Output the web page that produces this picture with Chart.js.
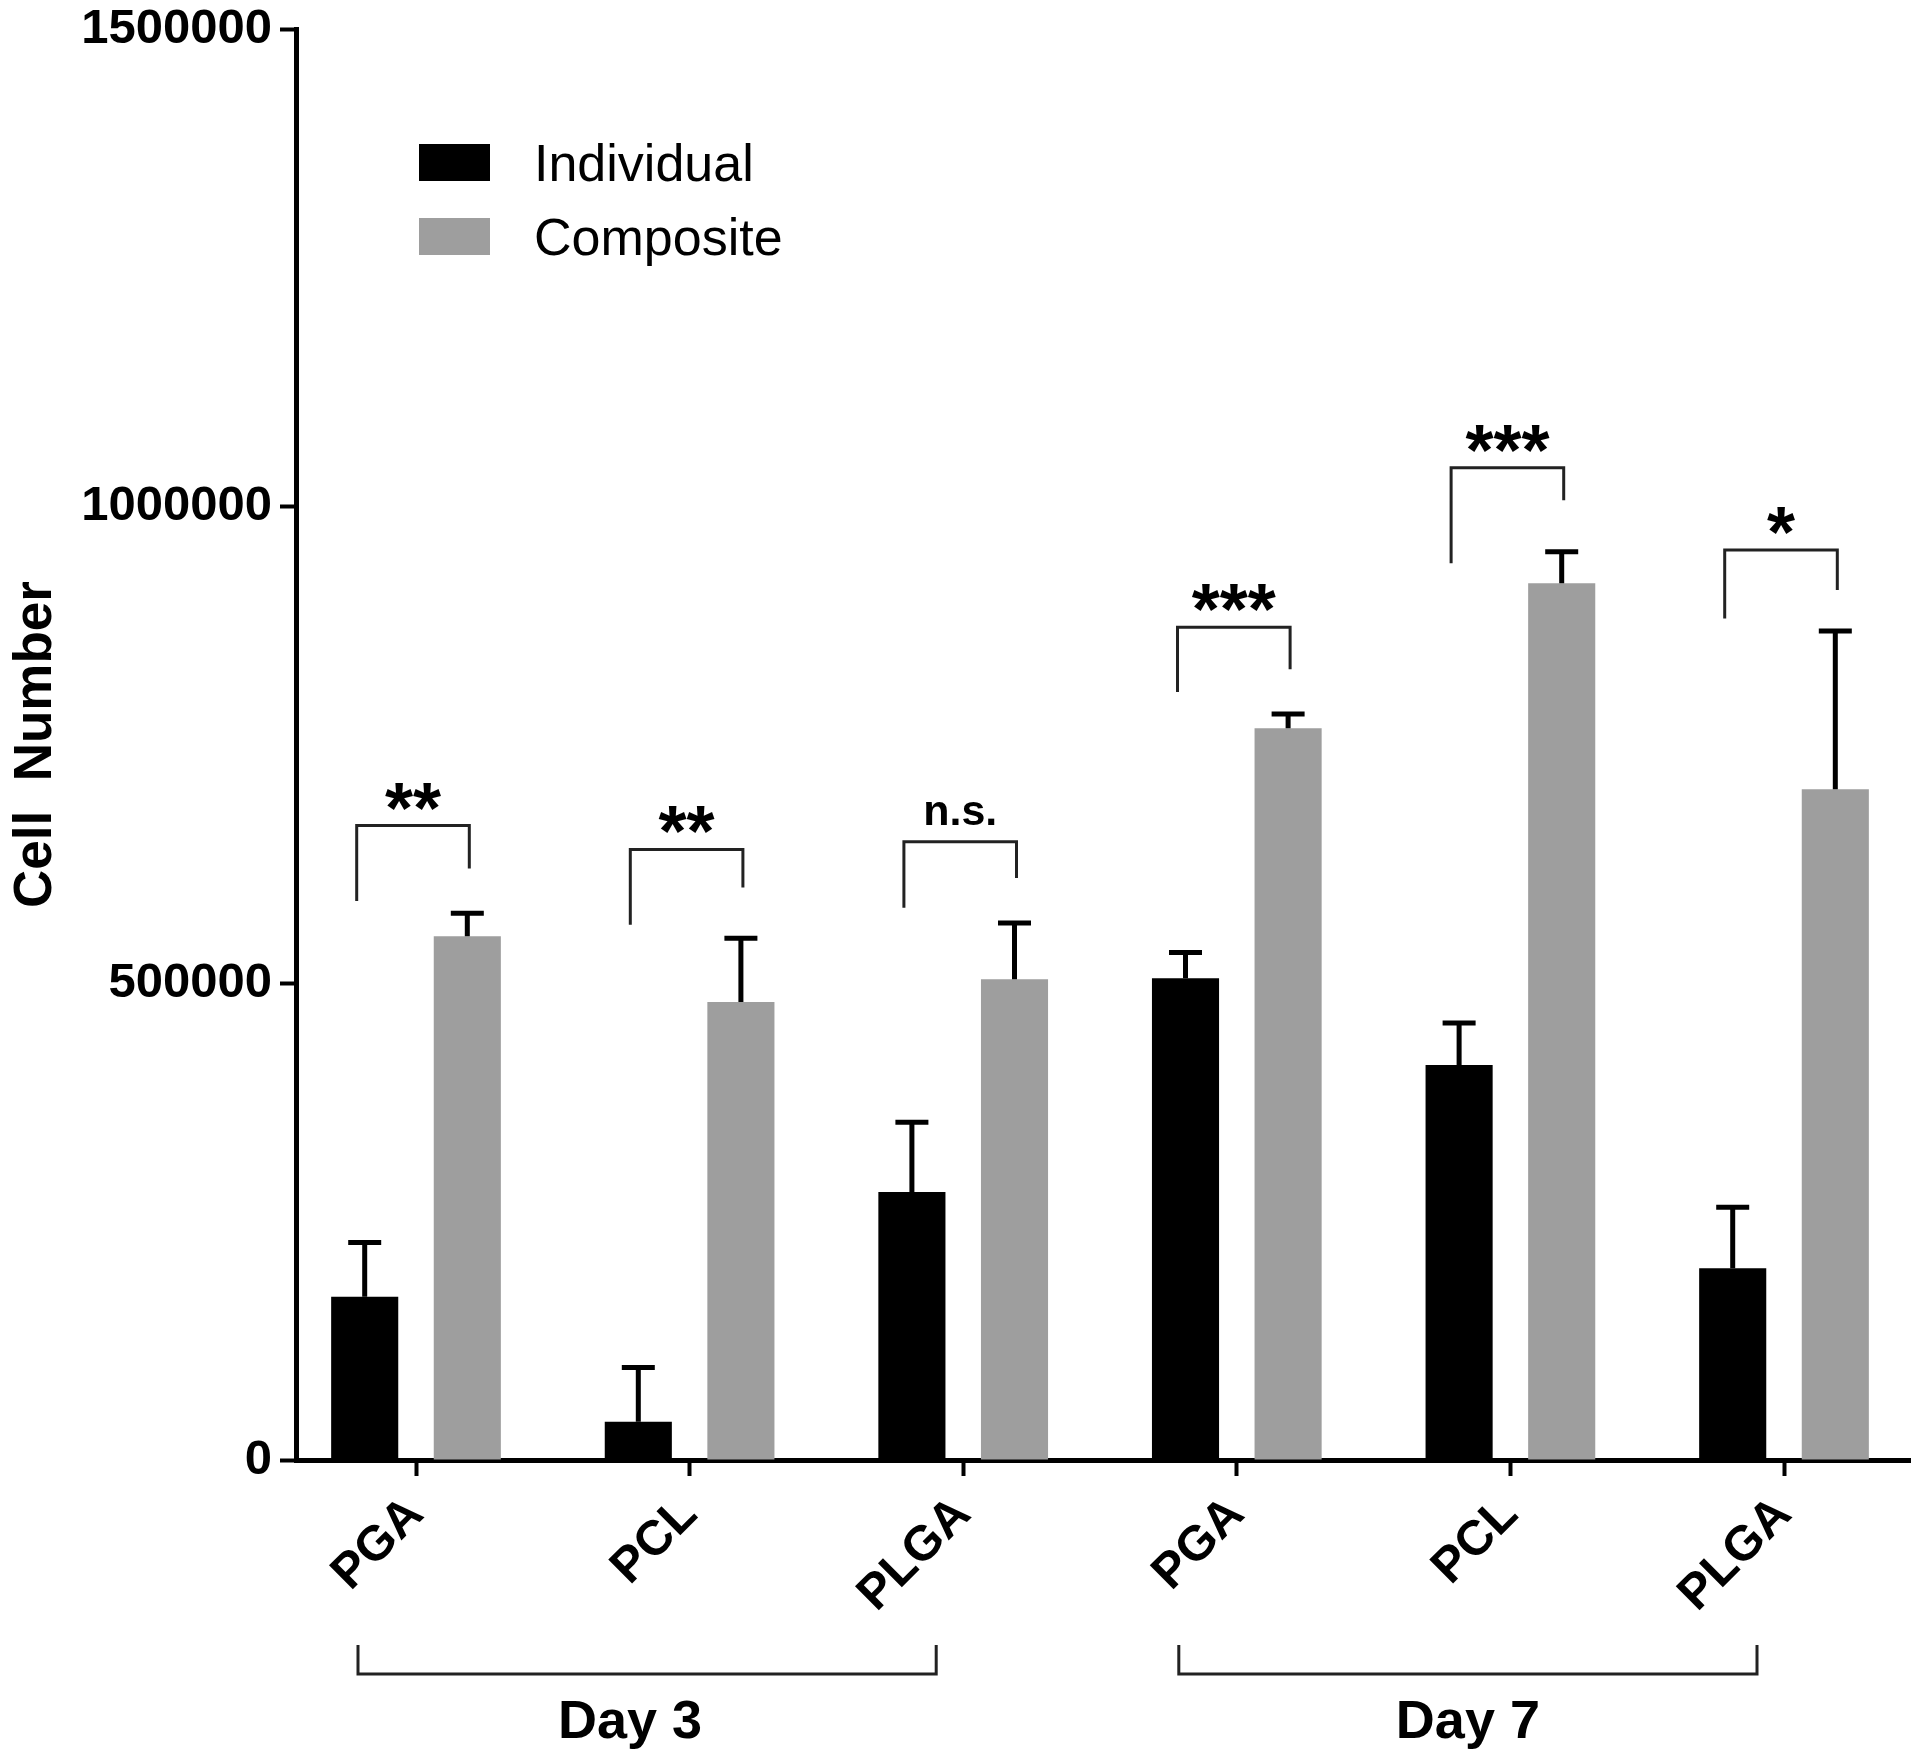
<!DOCTYPE html>
<html>
<head>
<meta charset="utf-8">
<script src="https://cdn.jsdelivr.net/npm/chart.js@4.4.1/dist/chart.umd.min.js"></script>
<style>
  html, body { margin: 0; padding: 0; background: #fff; }
</style>
</head>
<body>
<canvas id="cellChart" width="1920" height="1759"></canvas>
<script>
var materials = ['PGA', 'PCL', 'PLGA', 'PGA', 'PCL', 'PLGA'];
var days = ['Day 3', 'Day 7'];
var dayGroups = [[0, 2], [3, 5]];
var individual = [171000, 40000, 281000, 505000, 414000, 201000];
var individualErr = [57000, 57000, 73000, 27000, 44000, 64000];
var composite = [549000, 480000, 504000, 767000, 919000, 703000];
var compositeErr = [24000, 67000, 59000, 15000, 33000, 166000];
var yTicks = [0, 500000, 1000000, 1500000];
// significance brackets, in cell-number units: bar top, left leg end, right leg end
var sigLabels = ['**', '**', 'n.s.', '***', '***', '*'];
var sigTop = [665000, 640000, 648000, 873000, 1040000, 954000];
var sigLeft = [586000, 561000, 579000, 805000, 940000, 882000];
var sigRight = [620000, 600000, 610000, 829000, 1006000, 912000];

var FONT = "'Liberation Sans', Arial, sans-serif";
Chart.defaults.font.family = FONT;
Chart.defaults.color = '#000';

function points(vals) {
  return vals.map(function (v, i) { return { x: i, y: v }; });
}

var errorBars = {
  id: 'errorBars',
  afterDatasetsDraw: function (chart) {
    var ctx = chart.ctx, y = chart.scales.y;
    var errs = [individualErr, compositeErr];
    ctx.save();
    ctx.strokeStyle = '#000';
    ctx.lineWidth = 5;
    chart.data.datasets.forEach(function (ds, d) {
      chart.getDatasetMeta(d).data.forEach(function (bar, i) {
        var top = y.getPixelForValue(ds.data[i].y + errs[d][i]);
        ctx.beginPath();
        ctx.moveTo(bar.x, bar.y);
        ctx.lineTo(bar.x, top);
        ctx.moveTo(bar.x - 16.5, top);
        ctx.lineTo(bar.x + 16.5, top);
        ctx.stroke();
      });
    });
    ctx.restore();
  }
};

var annotations = {
  id: 'annotations',
  afterDraw: function (chart) {
    var ctx = chart.ctx, x = chart.scales.x, y = chart.scales.y, area = chart.chartArea;
    var m0 = chart.getDatasetMeta(0), m1 = chart.getDatasetMeta(1);
    ctx.save();
    ctx.strokeStyle = '#222';
    ctx.fillStyle = '#000';
    ctx.lineWidth = 3;
    ctx.textAlign = 'center';
    ctx.textBaseline = 'alphabetic';

    // significance brackets
    sigLabels.forEach(function (lab, i) {
      var l = m0.data[i].x - 8, r = m1.data[i].x + 2;
      var t = y.getPixelForValue(sigTop[i]);
      ctx.beginPath();
      ctx.moveTo(l, y.getPixelForValue(sigLeft[i]));
      ctx.lineTo(l, t);
      ctx.lineTo(r, t);
      ctx.lineTo(r, y.getPixelForValue(sigRight[i]));
      ctx.stroke();
      if (lab === 'n.s.') {
        ctx.font = 'bold 43px ' + FONT;
        ctx.fillText(lab, (l + r) / 2, t - 17);
      } else {
        ctx.font = 'bold 72px ' + FONT;
        ctx.fillText(lab, (l + r) / 2, t + 7);
      }
    });

    // day group brackets
    var dayShift = [-17, 0];
    dayGroups.forEach(function (g, k) {
      var l = x.getPixelForValue(g[0]) - 58, r = x.getPixelForValue(g[1]) - 27;
      var yt = area.bottom + 185, yb = area.bottom + 214;
      ctx.beginPath();
      ctx.moveTo(l, yt);
      ctx.lineTo(l, yb);
      ctx.lineTo(r, yb);
      ctx.lineTo(r, yt);
      ctx.stroke();
      ctx.font = 'bold 54px ' + FONT;
      ctx.fillText(days[k], (l + r) / 2 + dayShift[k], area.bottom + 278);
    });

    // legend
    ctx.textAlign = 'left';
    ctx.font = '52px ' + FONT;
    chart.data.datasets.forEach(function (ds, d) {
      var bx = area.left + 123, by = area.top + 115 + d * 74;
      ctx.fillStyle = ds.backgroundColor;
      ctx.fillRect(bx, by, 71, 37);
      ctx.fillStyle = '#000';
      ctx.fillText(ds.label, bx + 115, by + 37);
    });
    ctx.restore();
  }
};

var tickFont = { size: 49, weight: 'bold' };

new Chart(document.getElementById('cellChart'), {
  type: 'bar',
  data: {
    datasets: [
      { label: 'Individual', data: points(individual), backgroundColor: '#000000' },
      { label: 'Composite', data: points(composite), backgroundColor: '#9e9e9e' }
    ]
  },
  options: {
    responsive: false,
    animation: false,
    categoryPercentage: 0.75,
    barPercentage: 0.654,
    layout: { padding: { top: 29, right: 10, left: 0, bottom: 0 } },
    plugins: {
      legend: { display: false },
      tooltip: { enabled: false }
    },
    scales: {
      x: {
        type: 'linear',
        min: -0.4386,
        max: 5.4605,
        offset: false,
        afterFit: function (s) { s.height = 299; },
        afterBuildTicks: function (s) {
          s.ticks = materials.map(function (m, i) { return { value: i }; });
        },
        ticks: {
          autoSkip: false,
          minRotation: 45,
          maxRotation: 45,
          padding: 10,
          font: tickFont,
          callback: function (v) { return materials[v]; }
        },
        grid: { display: true, offset: false, drawOnChartArea: false, drawTicks: true, tickLength: 16, tickWidth: 4, tickColor: '#000' },
        border: { display: true, width: 5, color: '#000' }
      },
      y: {
        min: 0,
        max: 1500000,
        afterFit: function (s) {
          s.width = 296;
          s.paddingTop = 0;
          s.paddingBottom = 0;
        },
        afterBuildTicks: function (s) {
          s.ticks = yTicks.map(function (v) { return { value: v }; });
        },
        ticks: {
          padding: 8,
          font: tickFont,
          callback: function (v) { return String(v); }
        },
        title: {
          display: true,
          text: 'Cell  Number',
          font: { size: 53, weight: 'bold' },
          padding: { top: 5, bottom: 0 }
        },
        grid: { display: true, drawOnChartArea: false, drawTicks: true, tickLength: 16, tickWidth: 4, tickColor: '#000' },
        border: { display: true, width: 5, color: '#000' }
      }
    }
  },
  plugins: [errorBars, annotations]
});
</script>
</body>
</html>
